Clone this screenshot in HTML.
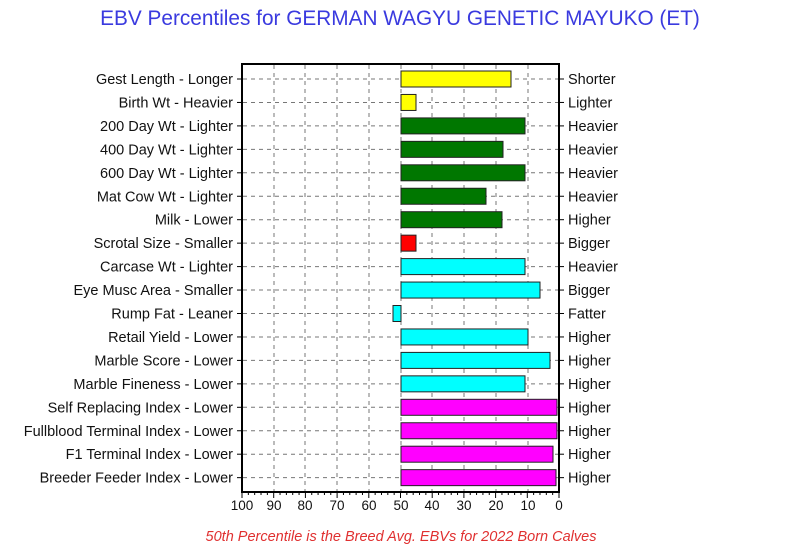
<!DOCTYPE html>
<html><head><style>
body{margin:0;background:#fff;}
svg{display:block;font-family:"Liberation Sans",sans-serif;}
</style></head><body>
<svg width="800" height="550" viewBox="0 0 800 550">
<text x="400" y="25" text-anchor="middle" font-size="20.8" fill="#3a3adf">EBV Percentiles for GERMAN WAGYU GENETIC MAYUKO (ET)</text>
<rect x="242" y="64" width="317" height="428" fill="#fff" stroke="none"/>
<g stroke="#777" stroke-dasharray="4,4" stroke-width="1">
<line x1="274" y1="65" x2="274" y2="491"/><line x1="305" y1="65" x2="305" y2="491"/>
<line x1="337" y1="65" x2="337" y2="491"/><line x1="369" y1="65" x2="369" y2="491"/>
<line x1="401" y1="65" x2="401" y2="491"/><line x1="432" y1="65" x2="432" y2="491"/>
<line x1="464" y1="65" x2="464" y2="491"/><line x1="496" y1="65" x2="496" y2="491"/>
<line x1="528" y1="65" x2="528" y2="491"/>
</g>
<g id="hg" stroke="#777" stroke-dasharray="4,4"></g>
<g id="bars"></g>
<rect x="242" y="64" width="317" height="428" fill="none" stroke="#000" stroke-width="2"/>
<g id="ticks" stroke="#000"></g>
<g id="labels" font-size="14.5" fill="#111"></g>
<g font-size="13.5" fill="#111" text-anchor="middle">
<text x="242" y="510">100</text><text x="274" y="510">90</text><text x="305" y="510">80</text>
<text x="337" y="510">70</text><text x="369" y="510">60</text><text x="401" y="510">50</text>
<text x="432" y="510">40</text><text x="464" y="510">30</text><text x="496" y="510">20</text>
<text x="528" y="510">10</text><text x="559" y="510">0</text>
</g>
<text x="401" y="541" text-anchor="middle" font-size="14.5" font-style="italic" fill="#e03030">50th Percentile is the Breed Avg. EBVs for 2022 Born Calves</text>
</svg>
<script>
var rows=[["Gest Length - Longer","Shorter",511,"#ffff00"],["Birth Wt - Heavier","Lighter",416,"#ffff00"],
["200 Day Wt - Lighter","Heavier",525,"#007700"],["400 Day Wt - Lighter","Heavier",503,"#007700"],
["600 Day Wt - Lighter","Heavier",525,"#007700"],["Mat Cow Wt - Lighter","Heavier",486,"#007700"],
["Milk - Lower","Higher",502,"#007700"],["Scrotal Size - Smaller","Bigger",416,"#ff0000"],
["Carcase Wt - Lighter","Heavier",525,"#00ffff"],["Eye Musc Area - Smaller","Bigger",540,"#00ffff"],
["Rump Fat - Leaner","Fatter",393,"#00ffff"],["Retail Yield - Lower","Higher",528,"#00ffff"],
["Marble Score - Lower","Higher",550,"#00ffff"],["Marble Fineness - Lower","Higher",525,"#00ffff"],
["Self Replacing Index - Lower","Higher",557,"#ff00ff"],["Fullblood Terminal Index - Lower","Higher",557,"#ff00ff"],
["F1 Terminal Index - Lower","Higher",553,"#ff00ff"],["Breeder Feeder Index - Lower","Higher",556,"#ff00ff"]];
var NS="http://www.w3.org/2000/svg";
function el(p,t,a,txt){var e=document.createElementNS(NS,t);for(var k in a)e.setAttribute(k,a[k]);if(txt)e.textContent=txt;document.getElementById(p).appendChild(e);}
rows.forEach(function(r,i){var y=79+i*23.45;
el("hg","line",{x1:243,x2:558,y1:y,y2:y});
var x0=Math.min(401,r[2]),w=Math.abs(r[2]-401);
el("bars","rect",{x:x0,y:y-8,width:w,height:16,fill:r[3],stroke:"#222","stroke-width":1});
el("labels","text",{x:233,y:y+5,"text-anchor":"end"},r[0]);
el("labels","text",{x:568,y:y+5},r[1]);
el("ticks","line",{x1:237,x2:242,y1:y,y2:y});el("ticks","line",{x1:559,x2:564,y1:y,y2:y});
});
for(var v=0;v<=100;v+=2){var x=242+v*3.17;el("ticks","line",{x1:x,x2:x,y1:492,y2:v%10==0?498:495});}
</script>
</body></html>
